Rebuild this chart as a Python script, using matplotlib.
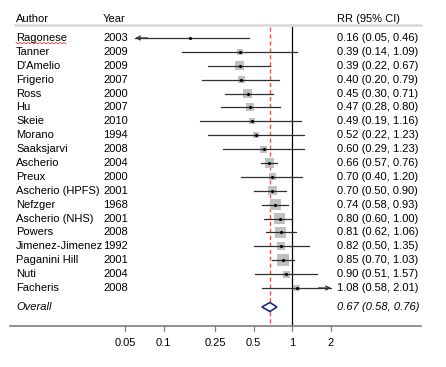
import numpy as np
import matplotlib.pyplot as plt
from matplotlib.transforms import blended_transform_factory

plt.rcParams['font.family'] = ['Liberation Sans', 'DejaVu Sans']

# Study data
authors = ['Ragonese', 'Tanner', "D'Amelio", 'Frigerio', 'Ross', 'Hu', 'Skeie',
           'Morano', 'Saaksjarvi', 'Ascherio', 'Preux', 'Ascherio (HPFS)',
           'Nefzger', 'Ascherio (NHS)', 'Powers', 'Jimenez-Jimenez',
           'Paganini Hill', 'Nuti', 'Facheris']
years = ['2003', '2009', '2009', '2007', '2000', '2007', '2010', '1994', '2008',
         '2004', '2000', '2001', '1968', '2001', '2008', '1992', '2001', '2004',
         '2008']
rr = [0.16, 0.39, 0.39, 0.40, 0.45, 0.47, 0.49, 0.52, 0.60, 0.66, 0.70, 0.70,
      0.74, 0.80, 0.81, 0.82, 0.85, 0.90, 1.08]
lo = [0.05, 0.14, 0.22, 0.20, 0.30, 0.28, 0.19, 0.22, 0.29, 0.57, 0.40, 0.50,
      0.58, 0.60, 0.62, 0.50, 0.70, 0.51, 0.58]
hi = [0.46, 1.09, 0.67, 0.79, 0.71, 0.80, 1.16, 1.23, 1.23, 0.76, 1.20, 0.90,
      0.93, 1.00, 1.06, 1.35, 1.03, 1.57, 2.01]
weights = [0.3, 2.9, 6.0, 3.9, 6.5, 5.1, 2.9, 2.9, 3.9, 6.5, 3.9, 6.5, 9.7, 9.7,
           9.7, 5.1, 11.5, 3.9, 3.9]
overall = (0.67, 0.58, 0.76)
xticks = [0.05, 0.1, 0.25, 0.5, 1, 2]
xticklabels = ['0.05', '0.1', '0.25', '0.5', '1', '2']
clip_lo, clip_hi = 0.06, 2.0

W, H = 446, 367
fig = plt.figure(figsize=(W / 100, H / 100), dpi=100)
ax = fig.add_axes([0, 0, 1, 1])
ax.set_xscale('log')
ax.axis('off')

# pixel layout -> data limits
px_dec = (331 - 125) / np.log10(2 / 0.05)
ax.set_xlim(0.05 / 10 ** (125 / px_dec), 2 * 10 ** ((W - 331) / px_dec))
row_h = (288 - 38) / 18
ax.set_ylim((H - 38) / row_h, -38 / row_h)

def py(p):
    return (p - 38) / row_h

tr = blended_transform_factory(ax.transAxes, ax.transData)
fx = lambda p: p / W

n = len(authors)
rows = np.arange(n)
fs = 8
overall_row = py(307)
axis_row = py(326)
top_row = py(27)

# header
ax.text(fx(16), py(19), 'Author', transform=tr, fontsize=fs, va='center')
ax.text(fx(103), py(19), 'Year', transform=tr, fontsize=fs, va='center')
ax.text(fx(337), py(19), 'RR (95% CI)', transform=tr, fontsize=fs, va='center')
ax.plot([fx(15), fx(421)], [py(25), py(25)], transform=tr, color='#d8d8d8', lw=1.8)

# reference lines
ax.plot([1, 1], [top_row, axis_row], color='black', lw=0.9)
ax.plot([overall[0]] * 2, [top_row, axis_row], color='#ff5040', lw=1.0,
        dashes=(3, 2))

# squares, CIs, points
sides = 3.54 * np.sqrt(weights) * 0.72
ax.scatter(rr, rows, s=sides ** 2, marker='s', color='#c0c0c0', lw=0, zorder=2)
for i in rows:
    a, b = max(lo[i], clip_lo), min(hi[i], clip_hi)
    ax.plot([a, b], [i, i], color='#303030', lw=0.9, zorder=3)
    if lo[i] < clip_lo:
        ax.annotate('', xy=(clip_lo, i), xytext=(clip_lo * 1.25, i),
                    arrowprops=dict(arrowstyle='->', lw=0.9, color='#303030',
                                    mutation_scale=7, shrinkA=0, shrinkB=0))
    if hi[i] > clip_hi:
        ax.annotate('', xy=(clip_hi, i), xytext=(clip_hi / 1.25, i),
                    arrowprops=dict(arrowstyle='->', lw=0.9, color='#303030',
                                    mutation_scale=7, shrinkA=0, shrinkB=0))
ax.scatter(rr, rows, s=5, color='black', lw=0, zorder=4)

# text columns
for i in rows:
    ax.text(fx(16), i, authors[i], transform=tr, fontsize=fs, va='center')
    ax.text(fx(103), i, years[i], transform=tr, fontsize=fs, va='center')
    ax.text(fx(337), i, '%.2f (%.2f, %.2f)' % (rr[i], lo[i], hi[i]),
            transform=tr, fontsize=fs, va='center')

# spell-check squiggle under first author
zx = np.linspace(fx(16), fx(66), 26)
zy = py(42.5) + np.where(np.arange(26) % 2 == 0, 0, 1.2 / row_h)
ax.plot(zx, zy, transform=tr, color='#e03030', lw=0.6)

# overall diamond
d_h = 4.5 / row_h
ax.fill([overall[1], overall[0], overall[2], overall[0], overall[1]],
        [overall_row, overall_row - d_h, overall_row, overall_row + d_h, overall_row],
        facecolor='white', edgecolor='#1a2a80', lw=1.2, zorder=5)
ax.text(fx(16), overall_row, 'Overall', transform=tr, fontsize=fs, va='center',
        style='italic')
ax.text(fx(337), overall_row, '%.2f (%.2f, %.2f)' % overall, transform=tr,
        fontsize=fs, va='center', style='italic')

# x axis
ax.plot([fx(10), fx(421)], [axis_row, axis_row], transform=tr, color='#808080', lw=1.2)
for t, lab in zip(xticks, xticklabels):
    ax.plot([t, t], [axis_row, axis_row + 5 / row_h], color='#808080', lw=0.9)
    ax.text(t, py(343), lab, fontsize=fs, ha='center', va='center')

fig.savefig('out.png', dpi=100)
